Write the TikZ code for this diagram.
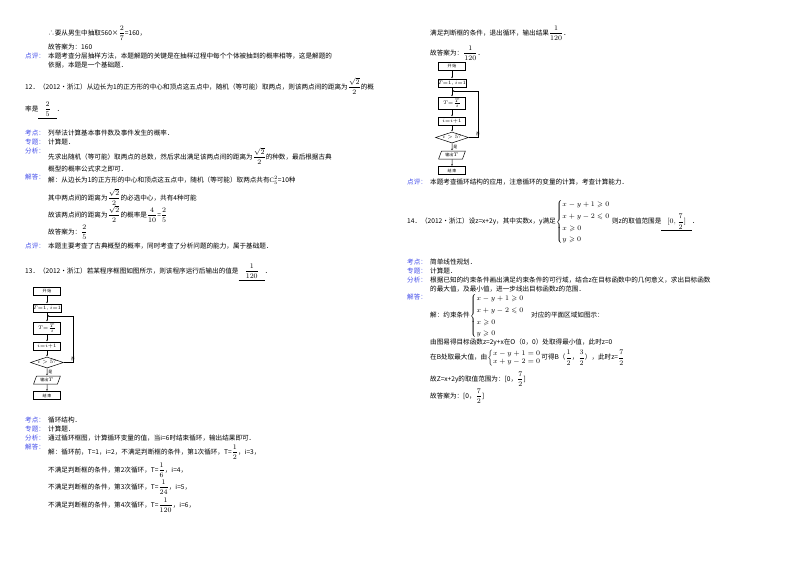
\documentclass[tikz,border=0pt]{standalone}
\usepackage{amsmath,amssymb}
\usepackage{fontspec}
\setmainfont{Liberation Serif}
\newfontfamily\cjk{Noto Sans CJK SC}
\usetikzlibrary{shapes.geometric,arrows.meta}
\definecolor{lbl}{RGB}{70,80,235}
\newcommand{\ut}[1]{\underline{\hspace{6pt}#1\hspace{6pt}}}
\tikzset{
  txt/.style={anchor=west,inner sep=0pt,font=\cjk\fontsize{6.6}{8}\selectfont},
  lab/.style={txt,text=lbl},
  fbox/.style={draw,line width=0.5pt,minimum width=27pt,minimum height=8pt,inner sep=0pt,font=\cjk\fontsize{4}{5}\selectfont},
  fdia/.style={draw,diamond,aspect=3,line width=0.5pt,inner sep=0pt,minimum width=33pt,minimum height=11pt,font=\fontsize{4}{5}\selectfont},
  fpar/.style={draw,trapezium,trapezium left angle=70,trapezium right angle=110,line width=0.5pt,inner sep=1pt,minimum width=22pt,minimum height=8pt,font=\cjk\fontsize{4}{5}\selectfont},
  fl/.style={-{Latex[length=2pt,width=1.6pt]},line width=0.5pt}
}
\newcommand{\flow}[3]{% #1 prefix, #2 x centre, #3 y top
 \node[fbox] (#1s) at (#2,#3+4) {开\,始};
 \node[fbox] (#1a) at (#2,#3+21) {$T{=}1,i{=}1$};
 \node[fbox,minimum height=12pt] (#1b) at (#2,#3+41) {$T{=}\frac{T}{i}$};
 \node[fbox] (#1c) at (#2,#3+59) {$i{=}i{+}1$};
 \node[fdia] (#1d) at (#2,#3+75.5) {$i>5?$};
 \node[fpar] (#1o) at (#2,#3+93) {输出$T$};
 \node[fbox] (#1e) at (#2,#3+108.5) {结\,束};
 \coordinate (#1j) at (#2,#3+29);
 \draw[fl] (#1s) -- (#1a);
 \draw[fl] (#1a) -- (#1b);
 \draw[fl] (#1b) -- (#1c);
 \draw[fl] (#1c) -- (#1d);
 \draw[fl] (#1d) -- node[right,font=\cjk\fontsize{4}{5}\selectfont,inner sep=1pt]{是} (#1o);
 \draw[fl] (#1o) -- (#1e);
 \draw[fl] (#1d.east) -- ++(9,0) node[above,font=\cjk\fontsize{4}{5}\selectfont,inner sep=1pt]{否} |- (#1j);
}
\begin{document}
\begin{tikzpicture}[x=1pt,y=-1pt]
\useasboundingbox[fill=white] (0,0) rectangle (800,566);
% ---------- left column
\node[txt] at (48,33) {∴要从男生中抽取560×$\dfrac{2}{7}$=160，};
\node[txt] at (48,47) {故答案为：160};
\node[lab] at (25,56) {点评：};
\node[txt] at (48,56) {本题考查分层抽样方法，本题解题的关键是在抽样过程中每个个体被抽到的概率相等，这是解题的};
\node[txt] at (48,65) {依据，本题是一个基础题．};
\node[txt] at (25,86) {12．（2012•浙江）从边长为1的正方形的中心和顶点这五点中，随机（等可能）取两点，则该两点间的距离为$\dfrac{\sqrt2}{2}$的概};
\node[txt] at (25,110) {率是\ut{$\dfrac{2}{5}$}．};
\node[lab] at (25,133) {考点：};\node[txt] at (48,133) {列举法计算基本事件数及事件发生的概率．};
\node[lab] at (25,142) {专题：};\node[txt] at (48,142) {计算题．};
\node[lab] at (25,151) {分析：};
\node[txt] at (48,156) {先求出随机（等可能）取两点的总数，然后求出满足该两点间的距离为$\dfrac{\sqrt2}{2}$的种数，最后根据古典};
\node[txt] at (48,169) {概型的概率公式求之即可．};
\node[lab] at (25,177) {解答：};
\node[txt] at (48,180) {解：从边长为1的正方形的中心和顶点这五点中，随机（等可能）取两点共有$\mathrm{C}_5^2$=10种};
\node[txt] at (48,197) {其中两点间的距离为$\dfrac{\sqrt2}{2}$的必选中心，共有4种可能};
\node[txt] at (48,214) {故该两点间的距离为$\dfrac{\sqrt2}{2}$的概率是$\dfrac{4}{10}$=$\dfrac{2}{5}$};
\node[txt] at (48,232) {故答案为：$\dfrac{2}{5}$};
\node[lab] at (25,246) {点评：};\node[txt] at (48,246) {本题主要考查了古典概型的概率，同时考查了分析问题的能力，属于基础题．};
\node[txt] at (25,272) {13．（2012•浙江）若某程序框图如图所示，则该程序运行后输出的值是\ut{$\dfrac{1}{120}$}．};
\flow{L}{47}{287}
\node[lab] at (25,420) {考点：};\node[txt] at (48,420) {循环结构．};
\node[lab] at (25,429) {专题：};\node[txt] at (48,429) {计算题．};
\node[lab] at (25,438) {分析：};\node[txt] at (48,438) {通过循环框图，计算循环变量的值，当i=6时结束循环，输出结果即可．};
\node[lab] at (25,447) {解答：};
\node[txt] at (48,452) {解：循环前，T=1，i=2，不满足判断框的条件，第1次循环，T=$\dfrac12$，i=3，};
\node[txt] at (48,470) {不满足判断框的条件，第2次循环，T=$\dfrac16$，i=4，};
\node[txt] at (48,487) {不满足判断框的条件，第3次循环，T=$\dfrac1{24}$，i=5，};
\node[txt] at (48,505) {不满足判断框的条件，第4次循环，T=$\dfrac1{120}$，i=6，};
% ---------- right column
\node[txt] at (430,33) {满足判断框的条件，退出循环，输出结果$\dfrac{1}{120}$．};
\node[txt] at (430,53) {故答案为：$\dfrac{1}{120}$．};
\flow{R}{452}{62}
\node[lab] at (407,182) {点评：};\node[txt] at (430,182) {本题考查循环结构的应用，注意循环的变量的计算，考查计算能力．};
\node[txt] at (407,222) {14．（2012•浙江）设z=x+2y，其中实数x，y满足$\left\{\renewcommand{\arraystretch}{1.45}\begin{array}{@{}l@{}}x-y+1\geqslant0\\ x+y-2\leqslant0\\ x\geqslant0\\ y\geqslant0\end{array}\right.$ 则z的取值范围是\ut{$[0,\dfrac72]$}．};
\node[lab] at (407,262) {考点：};\node[txt] at (430,262) {简单线性规划．};
\node[lab] at (407,271) {专题：};\node[txt] at (430,271) {计算题．};
\node[lab] at (407,280) {分析：};\node[txt] at (430,280) {根据已知的约束条件画出满足约束条件的可行域，结合z在目标函数中的几何意义，求出目标函数};
\node[txt] at (430,289) {的最大值，及最小值，进一步线出目标函数z的范围．};
\node[lab] at (407,297) {解答：};
\node[txt] at (430,316) {解：约束条件$\left\{\renewcommand{\arraystretch}{1.45}\begin{array}{@{}l@{}}x-y+1\geqslant0\\ x+y-2\leqslant0\\ x\geqslant0\\ y\geqslant0\end{array}\right.$\quad 对应的平面区域如图示：};
\node[txt] at (430,342) {由图易得目标函数z=2y+x在O（0，0）处取得最小值，此时z=0};
\node[txt] at (430,358) {在B处取最大值，由$\left\{\begin{array}{@{}l@{}}x-y+1=0\\ x+y-2=0\end{array}\right.$可得B（$\dfrac12$，$\dfrac32$），此时z=$\dfrac72$};
\node[txt] at (430,379) {故Z=x+2y的取值范围为：[0，$\dfrac72$]};
\node[txt] at (430,396) {故答案为：[0，$\dfrac72$]};
\end{tikzpicture}
\end{document}
